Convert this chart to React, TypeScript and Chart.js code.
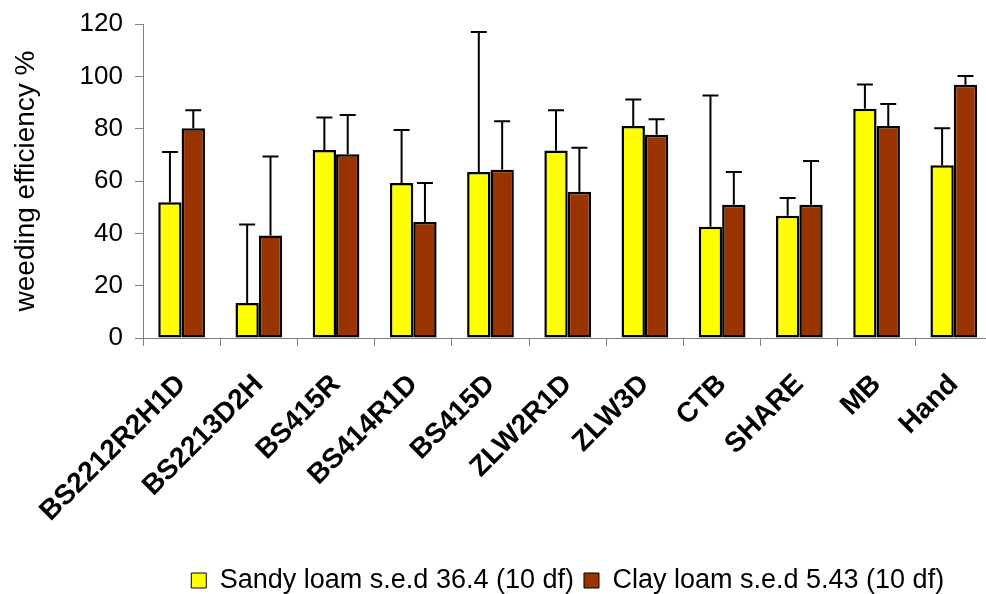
import React, { useEffect, useRef } from 'react';
import { Chart, registerables } from 'chart.js';

Chart.register(...registerables);

const categories = ['BS2212R2H1D', 'BS2213D2H', 'BS415R', 'BS414R1D', 'BS415D', 'ZLW2R1D', 'ZLW3D', 'CTB', 'SHARE', 'MB', 'Hand'];
const sandyLoam = [51.9, 13.4, 71.8, 59.2, 63.4, 71.7, 81.0, 42.5, 46.7, 87.6, 66.0];
const sandyLoamErr = [19.2, 30.0, 12.5, 20.3, 53.5, 15.3, 10.1, 50.2, 6.8, 9.3, 14.2];
const clayLoam = [80.2, 39.2, 70.2, 44.3, 64.3, 55.9, 77.7, 50.9, 50.9, 81.0, 96.8];
const clayLoamErr = [6.8, 30.2, 15.0, 14.9, 18.5, 16.8, 5.9, 12.5, 16.7, 8.4, 3.3];
const seriesLabels = ['Sandy loam s.e.d 36.4 (10 df)', 'Clay loam s.e.d 5.43 (10 df)'];
const yTitle = 'weeding efficiency %';
const yMin = 0;
const yMax = 120;
const yStep = 20;

const FONT = "'Liberation Sans', Arial, sans-serif";
const AXIS_GREY = '#808080';

const errorBarsPlugin = {
  id: 'errorBars',
  afterDatasetsDraw(chart: any) {
    const ctx = chart.ctx;
    const yScale = chart.scales.y;
    chart.data.datasets.forEach((ds: any, di: number) => {
      const meta = chart.getDatasetMeta(di);
      meta.data.forEach((el: any, i: number) => {
        const v = ds.data[i];
        const e = ds.errors[i];
        const top = yScale.getPixelForValue(v + e);
        const x = el.x;
        const y = el.y;
        ctx.save();
        ctx.strokeStyle = '#000';
        ctx.lineWidth = 2;
        ctx.beginPath();
        ctx.moveTo(x, y);
        ctx.lineTo(x, top);
        ctx.moveTo(x - 8, top);
        ctx.lineTo(x + 8, top);
        ctx.stroke();
        ctx.restore();
      });
    });
  },
};

export default function App() {
  const ref = useRef<HTMLCanvasElement | null>(null);

  useEffect(() => {
    if (!ref.current) return;
    const chart = new Chart(ref.current, {
      type: 'bar',
      data: {
        labels: categories,
        datasets: [
          {
            label: seriesLabels[0],
            data: sandyLoam,
            errors: sandyLoamErr,
            backgroundColor: '#FFFF00',
            borderColor: '#000000',
            borderWidth: 2.5,
            borderSkipped: false,
            categoryPercentage: 0.605,
            barPercentage: 1,
          } as any,
          {
            label: seriesLabels[1],
            data: clayLoam,
            errors: clayLoamErr,
            backgroundColor: '#993300',
            borderColor: '#000000',
            borderWidth: 2.5,
            borderSkipped: false,
            categoryPercentage: 0.605,
            barPercentage: 1,
          } as any,
        ],
      },
      plugins: [errorBarsPlugin],
      options: {
        responsive: false,
        animation: false,
        devicePixelRatio: 1,
        layout: { padding: { left: 0, top: 24, right: 7.6, bottom: 6 } },
        plugins: {
          tooltip: { enabled: false },
          legend: {
            position: 'bottom',
            fullSize: false,
            labels: {
              boxWidth: 15,
              boxHeight: 15,
              padding: 10,
              color: '#000',
              font: { family: FONT, size: 27 },
              generateLabels: (c: any) =>
                Chart.defaults.plugins.legend.labels.generateLabels(c).map((l: any) => ({ ...l, lineWidth: 1 })),
            },
          },
        },
        scales: {
          x: {
            grid: {
              display: true,
              offset: true,
              drawOnChartArea: false,
              drawTicks: true,
              tickLength: 8,
              color: AXIS_GREY,
              lineWidth: 1,
            },
            border: { display: true, color: AXIS_GREY, width: 1 },
            ticks: {
              autoSkip: false,
              maxRotation: 45,
              minRotation: 45,
              padding: 22,
              color: '#000',
              font: { family: FONT, size: 28, weight: 'bold' },
            },
            afterFit: (s: any) => {
              s.height = 219;
              s.paddingLeft = 0;
              s.paddingRight = 0;
            },
          },
          y: {
            min: yMin,
            max: yMax,
            grid: {
              display: true,
              drawOnChartArea: false,
              drawTicks: true,
              tickLength: 8,
              color: AXIS_GREY,
              lineWidth: 1,
            },
            border: { display: true, color: AXIS_GREY, width: 1 },
            ticks: {
              stepSize: yStep,
              padding: 12,
              color: '#000',
              font: { family: FONT, size: 26 },
            },
            title: {
              display: true,
              text: yTitle,
              color: '#000',
              font: { family: FONT, size: 28 },
              padding: { top: 9, bottom: 0 },
            },
            afterFit: (s: any) => {
              s.width = 143;
              s.paddingTop = 0;
              s.paddingBottom = 0;
            },
          },
        },
      } as any,
    });
    return () => chart.destroy();
  }, []);

  return (
    <div style={{ position: 'absolute', left: 0, top: 0, width: 986, height: 594, overflow: 'hidden', background: '#fff' }}>
      <canvas ref={ref} width={1000} height={610} style={{ width: 1000, height: 610, display: 'block' }} />
    </div>
  );
}
